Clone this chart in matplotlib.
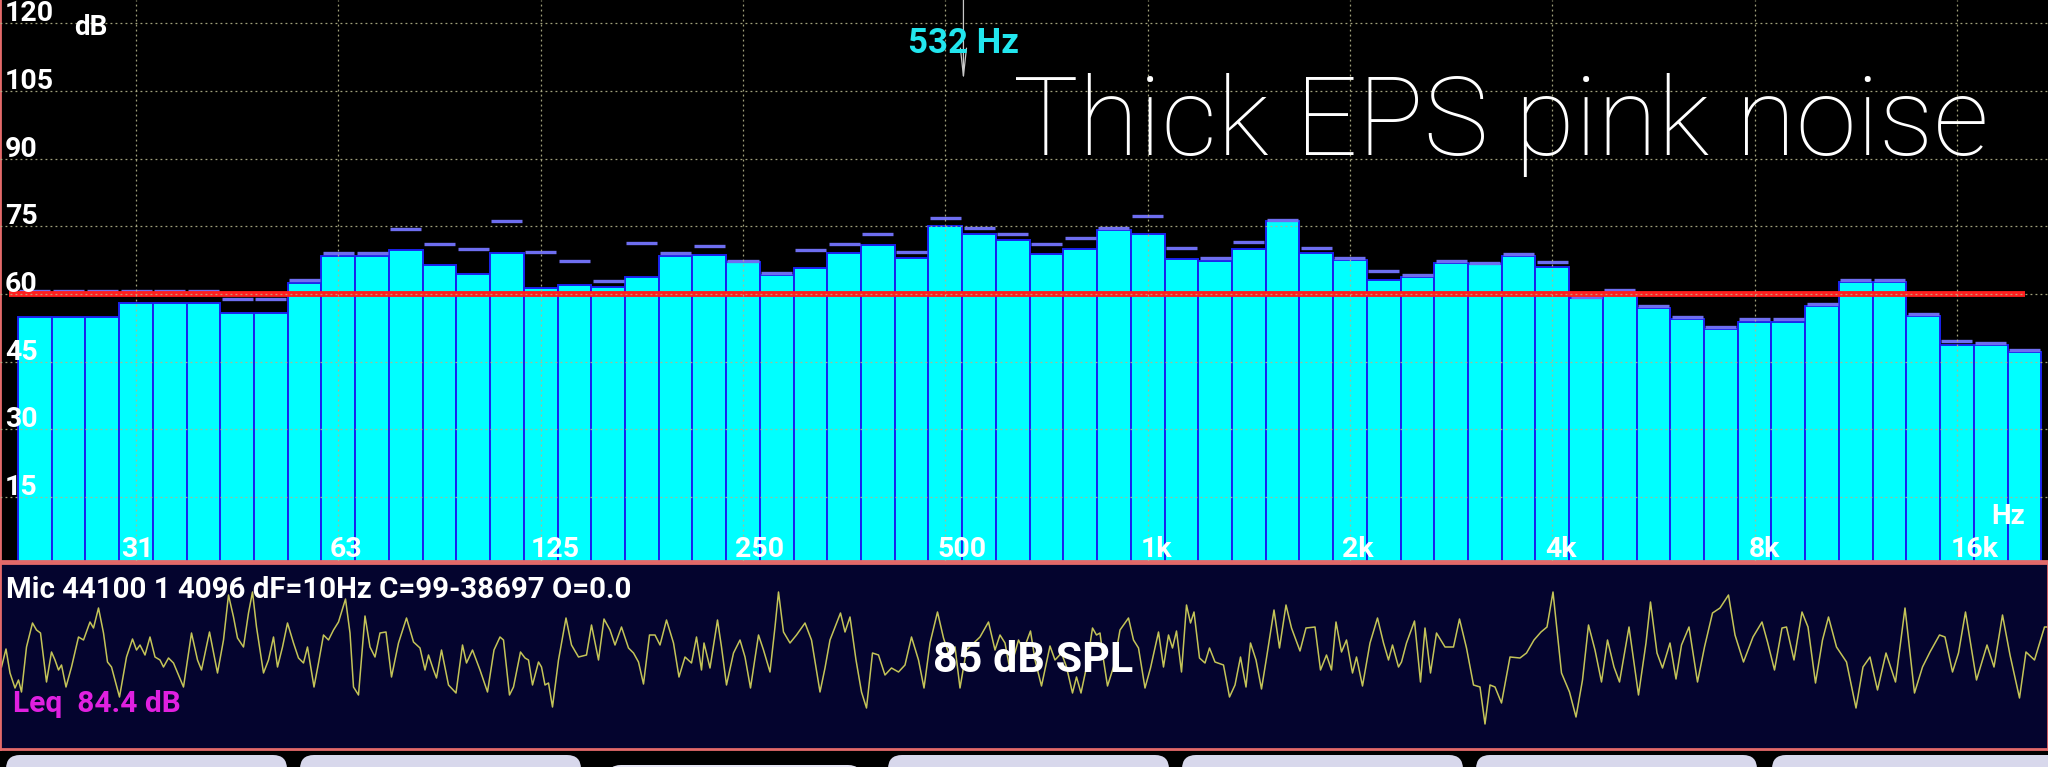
import numpy as np
import matplotlib.pyplot as plt
from matplotlib.patches import FancyBboxPatch

plt.rcParams['font.family'] = ['Roboto', 'DejaVu Sans']

W, H = 2048, 767

# 1/6-octave band levels (dB), 22 Hz ... 20 kHz, and their peak-hold values
band_level = [55.0, 55.0, 55.0, 58.1, 58.1, 58.1, 55.9, 55.9, 62.4, 68.4,
              68.4, 69.7, 66.4, 64.4, 69.1, 61.3, 62.1, 61.6, 63.8, 68.4,
              68.7, 67.0, 64.3, 65.8, 69.1, 70.8, 67.9, 75.1, 73.3, 72.0,
              68.9, 70.0, 74.3, 73.4, 67.7, 67.4, 70.0, 76.2, 69.2, 67.6,
              63.2, 63.7, 66.8, 66.6, 68.4, 66.0, 59.2, 60.4, 56.9, 54.5,
              52.3, 53.9, 53.7, 57.3, 62.7, 62.7, 55.2, 48.6, 48.8, 47.1]
band_peak = [60.7, 60.7, 60.7, 60.7, 60.7, 60.7, 58.8, 58.8, 63.1, 69.0,
             69.0, 74.4, 71.1, 69.9, 76.3, 69.4, 67.3, 62.9, 71.4, 69.1,
             70.6, 67.4, 64.7, 69.7, 71.0, 73.3, 69.3, 76.8, 74.6, 73.4,
             71.0, 72.4, 74.7, 77.3, 70.1, 67.9, 71.5, 76.5, 70.1, 68.0,
             65.2, 64.3, 67.4, 66.9, 68.9, 67.2, 59.4, 60.9, 57.3, 54.8,
             52.7, 54.5, 54.5, 57.8, 63.2, 63.2, 55.6, 49.5, 49.1, 47.5]
ref_level = 60
peak_freq = 532
tick_idx = [3, 9, 15, 21, 27, 33, 39, 45, 51, 57]
tick_lbl = ['31', '63', '125', '250', '500', '1k', '2k', '4k', '8k', '16k']
db_ticks = [15, 30, 45, 60, 75, 90, 105, 120]

# time signal (sample index, amplitude)
wave_pos = [3, 12, 20, 30, 37, 43, 53, 65, 73, 81, 93, 103, 110, 117, 123, 132, 143, 157, 167, 180,
            187, 197, 207, 215, 223, 239, 253, 265, 273, 280, 290, 300, 310, 320, 327, 337, 347, 367, 383, 395,
            403, 419, 435, 447, 457, 467, 475, 487, 497, 505, 513, 527, 537, 547, 555, 565, 575, 587, 597, 607,
            615, 628, 637, 647, 657, 667, 677, 691, 700, 707, 717, 730, 740, 750, 760, 772, 783, 797, 813, 827,
            840, 850, 857, 867, 873, 883, 897, 912, 925, 933, 945, 960, 975, 988, 1000,
            1007, 1019, 1027, 1041, 1050, 1057, 1065, 1077, 1083, 1090, 1097, 1105, 1117, 1132, 1143, 1157, 1173, 1183, 1197, 1208,
            1220, 1230, 1243, 1257, 1267, 1277, 1287, 1299, 1310, 1320, 1333, 1347, 1358, 1370, 1383, 1393, 1403, 1408, 1420, 1435,
            1443, 1453, 1467, 1480, 1490, 1501, 1517, 1527, 1540, 1550, 1557, 1567, 1580, 1593, 1610, 1623, 1640, 1650, 1660, 1670,
            1681, 1690, 1700, 1712, 1723, 1733, 1745, 1757, 1770, 1783, 1797, 1810, 1823, 1837, 1848, 1860, 1875, 1887, 1897, 1910,
            1920, 1933, 1960, 1977, 1990, 2000,
            2010, 2020, 2037, 2047, 2061, 2070, 2083, 2100, 2110, 2123, 2133, 2145, 2153, 2162, 2173, 2185, 2193, 2200, 2207, 2215,
            2227, 2240, 2257, 2267, 2277, 2290, 2301, 2317, 2327, 2337, 2345, 2353, 2363, 2373, 2381, 2388, 2399, 2410, 2419, 2430,
            2447, 2459, 2470, 2481, 2492, 2501, 2512, 2523, 2533, 2548, 2559, 2572, 2583, 2600, 2612, 2630, 2641, 2653, 2663, 2672,
            2683, 2693, 2705, 2713, 2725, 2740, 2755, 2767, 2777, 2785, 2797, 2803, 2813, 2829, 2841, 2850, 2861, 2873, 2890, 2907,
            2919, 2933, 2947, 2960, 2970, 2980, 2990, 3003, 3020, 3040,
            3053, 3068, 3082, 3094, 3106, 3123, 3139, 3152, 3165, 3177, 3190, 3203, 3215, 3228, 3239, 3258, 3277, 3292, 3301, 3314,
            3325, 3340, 3352, 3363, 3378, 3395, 3409, 3425, 3440, 3457, 3470, 3487, 3506, 3524, 3535, 3549, 3564, 3573, 3588, 3604,
            3616, 3631, 3645, 3657, 3673, 3693, 3712, 3726, 3740, 3755, 3772, 3791, 3810, 3829, 3845, 3860, 3879, 3890, 3905, 3917,
            3931, 3953, 3974, 3988, 4005, 4020, 4039, 4052, 4069, 4089, 4096]
wave_amp = [-27, -9, -33, -48, -40, -52, -7, 17, 10, 7, -42, -12, -20, -30, -25, -47, -27, 3, 0, 18,
            12, 32, 7, -22, -27, -57, -17, 1, -10, -5, -15, 3, -17, -20, -27, -18, -23, -47, 7, -20,
            -30, 8, -33, 0, 45, 23, 2, -7, 27, 48, 13, -33, -20, 3, -27, -7, 17, -3, -18, -23,
            -7, -47, -23, 5, 0, 10, 18, 41, 7, -47, -55, 24, -7, -17, 7, 8, -37, -3, 22, -2,
            -8, -30, -15, -30, -38, -10, -45, -53, -5, -23, -10, -30, -52, -10, 3,
            0, -55, -47, -12, -18, -20, -45, -22, -27, -45, -43, -67, -20, 22, -5, -17, -15, 15, -20, 21,
            10, -5, 13, -8, -13, -22, -44, 5, 5, -5, 20, -3, -37, -17, -23, 3, -30, -3, -28, 20,
            -7, -45, -13, 0, -17, -48, 5, -10, -32, 13, 48, 8, -3, 5, 17, 0, -52, -28, 0, 13,
            27, 8, 23, -20, -52, -68, -13, -15, -35, -28, -32, -25, 3, -20, -48, -3, 28, 2, -13, -7,
            -48, -10, 3, 18, -10, 5,
            -3, -30, 0, -10, 9, -20, -46, -6, -20, -13, -27, -53, -37, -53, -27, 12, 5, 7, -20, -46,
            -27, 10, 22, 0, -8, -48, -28, 8, -27, 5, -8, 9, -32, 35, 17, 28, -18, -23, -8, -22,
            -25, -57, -45, -17, -47, -3, -20, -49, -18, 30, -8, 35, 12, -11, 12, 13, -30, -15, -30, 18,
            -12, 0, -33, -17, -46, -3, 22, -3, -20, -5, -27, -22, -3, 19, -42, 12, -33, 7, -7, -7,
            21, -8, -45, -47, -84, -45, -47, -63, -17, -18,
            -13, 0, 8, 13, 48, -33, -52, -77, -40, 15, -10, -42, 0, -27, -42, 13, -55, -3, 38, -13,
            -28, -3, -39, -5, 13, -42, -7, 27, 32, 45, 5, -22, 3, 18, -2, -30, 12, 13, -20, 28,
            13, -43, 0, 23, -7, -22, -68, -27, -17, -50, -13, -42, 32, -53, -27, -12, 5, 3, -32, -13,
            28, -40, -5, -27, 25, -15, -58, -12, -20, 13, 13]


def band_index(f):
    return 27 + 6 * np.log2(f / 500.0)


fig = plt.figure(figsize=(W / 100, H / 100), dpi=100)
fig.set_facecolor('black')

# spectrum panel
ax = fig.add_axes([0, 1 - 561 / H, 1, 561 / H])
ax.set_facecolor('black')
x = np.arange(len(band_level))
ax.bar(x, band_level, width=1.0, color='#00ffff', edgecolor='#1a22ee', linewidth=1.4, zorder=1)
ax.hlines(band_peak, x - 0.46, x + 0.46, colors='#6e6ef0', linewidth=2.4, zorder=1.5)
ax.hlines(ref_level, -0.77, 59.02, colors='#ff1f1f', linewidth=4.2, zorder=2)
ax.set_xlim(-1.034, 59.70)
ax.set_ylim(0.8, 125.2)
ax.set_xticks(tick_idx)
ax.set_yticks(db_ticks)
ax.tick_params(length=0, labelbottom=False, labelleft=False)
ax.grid(True, color='#b4b48a', linewidth=0.9, linestyle=(0, (1.5, 2.5)), alpha=0.9)
ax.set_axisbelow(False)
for s in ['top', 'right']:
    ax.spines[s].set_visible(False)
for s in ['left', 'bottom']:
    ax.spines[s].set_color('#e46a6a')
    ax.spines[s].set_linewidth(2)

ytr = ax.get_yaxis_transform()
for v in db_ticks:
    ax.text(5 / W, v + 0.45, str(v), transform=ytr, color='white', fontsize=20.5,
            fontweight='bold', ha='left', va='baseline', zorder=5)
ax.text(74 / W, 117.5, 'dB', transform=ytr, color='white', fontsize=20,
        fontweight='bold', ha='left', va='baseline', zorder=5)
lbl_shift = [-0.45, -0.27, -0.29, -0.24, -0.22, -0.22, -0.24, -0.2, -0.18, -0.18]
for i, lbl, dx in zip(tick_idx, tick_lbl, lbl_shift):
    ax.text(i + dx, 1.7, lbl, color='white', fontsize=20.5, fontweight='bold',
            ha='left', va='baseline', zorder=5)
ax.text(59.02, 9.0, 'Hz', color='white', fontsize=20, fontweight='bold',
        ha='right', va='baseline', zorder=5)

px = band_index(peak_freq)
ax.text(px, 113.5, f'{peak_freq} Hz', color='#22e6ee', fontsize=25, fontweight='bold',
        ha='center', va='baseline', zorder=5)
ax.annotate('', xy=(px, 107.1), xytext=(px, 125.2),
            arrowprops=dict(arrowstyle='->,head_length=2.0,head_width=0.22',
                            color='#c8c8c8', lw=0.9, shrinkA=0, shrinkB=0))

fig.text(1501 / W, 1 - 155 / H, 'Thick EPS pink noise', color='white', fontsize=79,
         fontweight=100, ha='center', va='baseline')

# time signal panel
axw = fig.add_axes([0, 1 - 748.5 / H, 1, 186 / H])
axw.set_facecolor('#04042e')
axw.plot(wave_pos, wave_amp, color='#c4c458', linewidth=1.1)
axw.set_xlim(0, 4096)
axw.set_ylim(-108.5, 77.5)
axw.set_xticks([])
axw.set_yticks([])
for s in axw.spines.values():
    s.set_color('#e46a6a')
    s.set_linewidth(2)

fig.text(6 / W, 1 - 598 / H, 'Mic 44100 1 4096 dF=10Hz C=99-38697 O=0.0', color='white',
         fontsize=21.2, fontweight='bold', ha='left', va='baseline')
fig.text(13 / W, 1 - 712 / H, 'Leq  84.4 dB', color='#e020e0', fontsize=21.5,
         fontweight='bold', ha='left', va='baseline')
fig.text(1033 / W, 1 - 672 / H, '85 dB SPL', color='white', fontsize=31,
         fontweight='bold', ha='center', va='baseline')

# buttons strip at the bottom
axb = fig.add_axes([0, 0, 1, 18 / H])
axb.set_xlim(0, W)
axb.set_ylim(H, H - 18)
axb.axis('off')
buttons = [(6, 287, 755), (300, 581, 755), (607, 862, 765), (888, 1169, 755),
           (1182, 1463, 755), (1476, 1757, 755), (1772, 2070, 755)]
r = 14
for x0, x1, top in buttons:
    fc = '#e6e6f4' if top > 760 else '#d8d8ec'
    axb.add_patch(FancyBboxPatch((x0 + r, top + r), (x1 - x0) - 2 * r, 40,
                                 boxstyle=f'round,pad={r}', fc=fc, ec='none'))

fig.savefig('out.png', dpi=100, facecolor='black')
